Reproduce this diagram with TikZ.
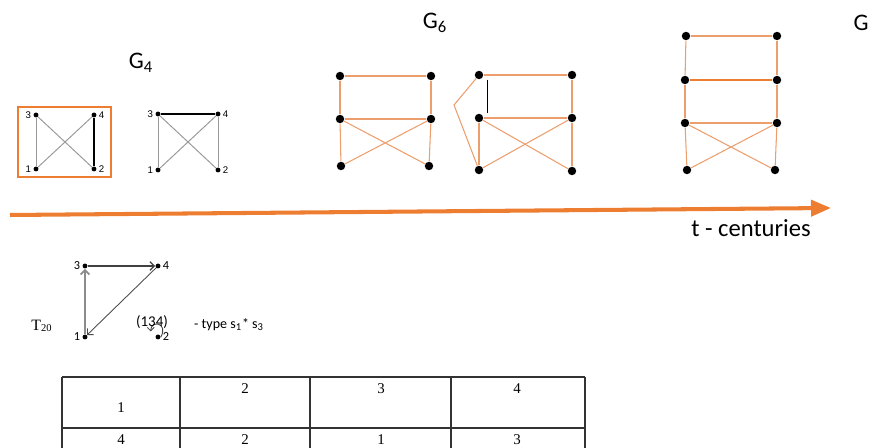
\documentclass[tikz,border=0pt]{standalone}
\usepackage{fontspec}
\setmainfont{Carlito}
\newfontfamily\arialfont{Liberation Sans}
\newfontfamily\timesfont{Liberation Serif}
\usetikzlibrary{arrows.meta,positioning}
\definecolor{darkorange}{RGB}{237,125,49}
\definecolor{edgeorange}{RGB}{236,158,108}

\begin{document}
\begin{tikzpicture}[x=0.02cm,y=-0.02cm,
  dot/.style={circle,fill=black,inner sep=0pt,minimum size=2.8pt},
  bigdot/.style={circle,fill=black,inner sep=0pt,minimum size=4.8pt},
  lbl/.style={font=\arialfont\fontsize{5.5}{6}\selectfont,inner sep=1pt},
  title/.style={font=\fontsize{13.5}{15}\selectfont},
  oedge/.style={draw=edgeorange,line width=0.6pt},
  gedge/.style={draw=black!40,line width=0.55pt},
  kedge/.style={draw=black,line width=0.9pt},
  cell/.style={font=\timesfont\fontsize{8.5}{10}\selectfont}]
\useasboundingbox (0,0) rectangle (870,448);

% G_4 graphs
\node[title] (g4) at (141,63) {G\textsubscript{4}};
\draw[darkorange,line width=0.7pt] (18,107) rectangle (111,177);
\node[dot] (a3) at (36,115) {};
\node[dot] (a4) at (94,115) {};
\node[dot] (a1) at (36,169) {};
\node[dot] (a2) at (94,169) {};
\node[lbl,left=0pt of a3] {3};
\node[lbl,right=0pt of a4] {4};
\node[lbl,left=0pt of a1] {1};
\node[lbl,right=0pt of a2] {2};
\draw[gedge] (a3) -- (a1);
\draw[gedge] (a3) -- (a2);
\draw[gedge] (a1) -- (a4);
\draw[kedge] (a4) -- (a2);

\node[dot] (b3) at (158,114) {};
\node[dot] (b4) at (218,114) {};
\node[dot] (b1) at (158,170) {};
\node[dot] (b2) at (218,170) {};
\node[lbl,left=0pt of b3] {3};
\node[lbl,right=0pt of b4] {4};
\node[lbl,left=0pt of b1] {1};
\node[lbl,right=0pt of b2] {2};
\draw[kedge] (b3) -- (b4);
\draw[gedge] (b3) -- (b1);
\draw[gedge] (b3) -- (b2);
\draw[gedge] (b1) -- (b4);
\draw[gedge] (b4) -- (b2);

% G_6 graphs
\node[title] (g6) at (435,23) {G\textsubscript{6}};
\node[bigdot] (c1) at (340,76) {};
\node[bigdot] (c2) at (431,76) {};
\node[bigdot] (c3) at (340,119) {};
\node[bigdot] (c4) at (431,119) {};
\node[bigdot] (c5) at (341,166) {};
\node[bigdot] (c6) at (429,166) {};
\draw[oedge] (c1) -- (c2);
\draw[oedge] (c1) -- (c3);
\draw[oedge] (c2) -- (c4);
\draw[oedge] (c3) -- (c4);
\draw[oedge] (c3) -- (c5);
\draw[oedge] (c4) -- (c6);
\draw[oedge] (c3) -- (c6);
\draw[oedge] (c4) -- (c5);

\node[bigdot] (d1) at (479,75) {};
\node[bigdot] (d2) at (572,75) {};
\node[bigdot] (d3) at (479,118) {};
\node[bigdot] (d4) at (572,118) {};
\node[bigdot] (d5) at (479,170) {};
\node[bigdot] (d6) at (572,171) {};
\coordinate (bend) at (454,105);
\draw[oedge] (d1) -- (d2);
\draw[oedge] (d2) -- (d4);
\draw[oedge] (d3) -- (d4);
\draw[oedge] (d3) -- (d5);
\draw[oedge] (d3) -- (d6);
\draw[oedge] (d4) -- (d5);
\draw[oedge] (d4) -- (d6);
\draw[oedge] (d1) -- (bend) -- (d5);
\draw[black,line width=0.7pt] ([xshift=5pt]d1.south) -- ([xshift=5pt]d3.north);

% G_8 graph
\node[title] (g8) at (861,23) {G};
\node[bigdot] (e1) at (686,36) {};
\node[bigdot] (e2) at (777,36) {};
\node[bigdot] (e3) at (685,80) {};
\node[bigdot] (e4) at (777,80) {};
\node[bigdot] (e5) at (685,123) {};
\node[bigdot] (e6) at (777,123) {};
\node[bigdot] (e7) at (687,170) {};
\node[bigdot] (e8) at (775,170) {};
\draw[oedge] (e1) -- (e2);
\draw[oedge] (e1) -- (e3);
\draw[oedge] (e2) -- (e4);
\draw[oedge,draw=darkorange,line width=1.2pt] (e3) -- (e4);
\draw[oedge] (e3) -- (e5);
\draw[oedge] (e4) -- (e6);
\draw[oedge] (e5) -- (e6);
\draw[oedge] (e5) -- (e7);
\draw[oedge] (e6) -- (e8);
\draw[oedge] (e5) -- (e8);
\draw[oedge] (e6) -- (e7);

% time axis
\coordinate (tstart) at (10,215);
\coordinate (tend) at (831,208);
\draw[darkorange,line width=2.3pt,-{Triangle[length=0.4cm,width=0.32cm]}] (tstart) -- (tend);
\node[font=\fontsize{14}{16}\selectfont] (tlabel) at (751,228) {t - centuries};

% T_20 tournament
\node[font=\timesfont\fontsize{9}{10}\selectfont] (t20) at (42,326) {T\textsubscript{20}};
\node[dot] (f3) at (85,266) {};
\node[dot] (f4) at (158,266) {};
\node[dot] (f1) at (85,337) {};
\node[dot] (f2) at (158,337) {};
\node[lbl,left=0pt of f3,font=\fontsize{7}{8}\selectfont] {3};
\node[lbl,right=0pt of f4,font=\fontsize{7}{8}\selectfont] {4};
\node[lbl,left=0pt of f1,font=\fontsize{7}{8}\selectfont] {1};
\node[lbl,right=0pt of f2,font=\fontsize{7}{8}\selectfont] {2};
\draw[black!45,line width=1pt,-{Straight Barb[length=2.5pt,width=5pt]}] (f1) -- (f3);
\draw[black!75,line width=0.7pt,-{Straight Barb[length=2.5pt,width=5pt]}] (f3) -- (f4);
\draw[black!70,line width=0.5pt,-{Straight Barb[length=2.5pt,width=5pt]}] (f4) -- (f1);
\draw[black!75,line width=0.5pt,-{Straight Barb[length=2pt,width=4pt]}]
  (f2.east) .. controls +(8,-14) and +(0,-12) .. ([xshift=-3pt,yshift=2pt]f2.north west);
\node[font=\fontsize{8.5}{9}\selectfont] (perm) at (152,322) {(134)};
\node[font=\fontsize{8}{9}\selectfont,anchor=west] (ptype) at (188,325) {- type s\textsubscript{1}* s\textsubscript{3}};

% permutation table
\draw[black!80,line width=0.6pt] (62,377) -- (585,377);
\draw[black!80,line width=0.6pt] (62,428) -- (585,428);
\foreach \x in {62,180,310,451,585}
  \draw[black!80,line width=0.6pt] (\x,377) -- (\x,449);
\node[cell] (r1) at (121,408) {1};
\node[cell] (r2) at (245,389) {2};
\node[cell] (r3) at (381,389) {3};
\node[cell] (r4) at (517,389) {4};
\node[cell] (s1) at (121,440) {4};
\node[cell] (s2) at (245,440) {2};
\node[cell] (s3) at (381,440) {1};
\node[cell] (s4) at (517,440) {3};
\end{tikzpicture}
\end{document}
